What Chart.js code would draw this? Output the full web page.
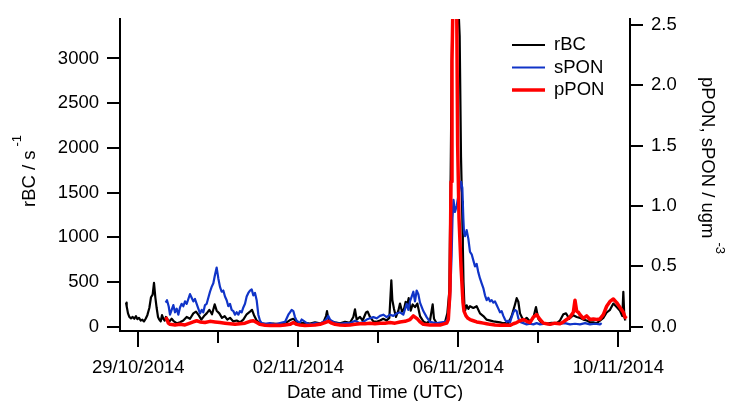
<!DOCTYPE html>
<html>
<head>
<meta charset="utf-8">
<title>rBC, sPON and pPON</title>
<script src="https://cdn.jsdelivr.net/npm/chart.js@4.4.1/dist/chart.umd.min.js"></script>
<style>
  body { margin: 0; background: #fff; }
  #wrap { width: 729px; height: 401px; position: relative; }
</style>
</head>
<body>
<div id="wrap"><canvas id="myChart"></canvas></div>
<script>
// time is kept in hours since 28/10/2014 13:00 UTC
const T0 = Date.UTC(2014, 9, 28, 13);
const timeTicks = [11, 59, 107, 155, 203, 251, 299];   // every 2 days, label every 4
const leftTicks = [0, 500, 1000, 1500, 2000, 2500, 3000];
const rightTicks = [0, 0.5, 1, 1.5, 2, 2.5];

// rBC (s-1), left axis
const rbcHours = [
  3.6, 4.0, 4.8, 5.6, 6.6, 7.6, 8.6, 9.6, 10.4, 11.4,
  12.4, 13.4, 14.4, 15.4, 16.4, 17.6, 18.6, 19.6, 20.4, 21.2,
  22.0, 22.8, 23.6, 24.4, 25.2, 26.0, 26.8, 27.6, 28.6, 29.6,
  31.0, 32.4, 34.0, 36.0, 38.0, 40.0, 42.0, 44.0, 45.6, 47.2,
  48.8, 50.4, 52.0, 53.6, 55.2, 56.8, 58.0, 59.6, 61.2, 62.8,
  64.4, 66.0, 68.0, 70.0, 72.0, 74.0, 76.0, 78.0, 79.2, 80.4,
  82.0, 84.0, 88.0, 92.0, 96.0, 100.0, 102.0, 104.0, 106.0, 108.0,
  111.0, 114.0, 117.0, 120.0, 122.0, 123.6, 124.2, 125.0, 126.4, 129.0,
  132.0, 135.0, 138.0, 140.0, 141.0, 142.0, 144.0, 145.6, 147.6, 148.6,
  150.0, 152.0, 154.0, 156.0, 158.0, 160.0, 161.6, 162.8, 163.4, 164.4,
  165.6, 167.0, 168.0, 169.2, 170.4, 171.4, 172.4, 173.2, 174.4, 175.6,
  177.0, 178.4, 180.0, 182.0, 184.0, 186.0, 187.6, 188.4, 190.0, 193.0,
  195.0, 196.4, 197.6, 198.4, 199.0, 199.6, 201.0, 203.0, 203.8, 204.6,
  205.2, 205.7, 206.1, 206.6, 207.0, 208.0, 209.0, 210.0, 212.0, 214.0,
  216.0, 218.0, 220.0, 224.0, 228.0, 230.0, 233.0, 235.0, 237.0, 238.0,
  239.0, 240.0, 242.0, 244.0, 246.0, 248.0, 249.6, 251.0, 253.0, 256.0,
  259.0, 262.0, 264.0, 266.0, 267.6, 269.6, 272.0, 274.0, 276.0, 278.0,
  280.0, 282.0, 284.0, 286.0, 288.0, 290.0, 292.0, 294.0, 296.0, 298.0,
  300.0, 301.4, 302.0, 302.6, 303.2
];
const rbcValues = [
  270, 230, 150, 110, 95, 110, 90, 120, 85, 100,
  70, 80, 60, 90, 130, 210, 330, 360, 490, 330,
  210, 110, 80, 60, 130, 90, 70, 110, 80, 60,
  90, 60, 40, 50, 70, 110, 90, 150, 170, 130,
  80, 120, 150, 190, 140, 250, 180, 150, 100, 120,
  80, 100, 60, 70, 50, 80, 140, 170, 190, 130,
  70, 40, 30, 35, 30, 50, 75, 90, 55, 40,
  45, 35, 50, 40, 50, 120, 175, 90, 60, 50,
  40, 55, 45, 110, 195, 80, 110, 70, 160, 170,
  110, 60, 55, 70, 90, 70, 100, 520, 300, 200,
  110, 180, 260, 170, 200, 280, 250, 320, 180, 250,
  220, 260, 120, 60, 40, 70, 250, 90, 40, 35,
  50, 150, 400, 1700, 2900, 3600, 3600, 3600, 3250, 1900,
  1400, 900, 500, 260, 180, 240, 200, 230, 210, 230,
  150, 120, 80, 60, 50, 40, 40, 120, 250, 320,
  280, 150, 70, 100, 60, 100, 220, 90, 40, 35,
  45, 40, 70, 140, 150, 90, 130, 110, 100, 80,
  70, 50, 50, 40, 70, 100, 160, 190, 260, 220,
  180, 120, 390, 110, 70
];

// sPON (ugm-3), right axis
const sponHours = [
  27.4, 28.2, 29.2, 30, 31, 32, 33, 34, 35, 36,
  37, 38, 39, 40, 41, 42, 43, 44, 45, 46,
  47, 48, 49, 50, 51, 52, 53, 54, 55, 56,
  57, 58, 59, 60, 61, 62, 63, 64, 65, 66,
  67, 68, 69, 70, 71, 72, 73, 74, 75, 76,
  77, 78, 79, 80, 81, 82, 83, 84, 85, 87,
  90, 93, 96, 99, 101, 102, 103, 104, 105, 106,
  107, 108, 109, 110, 112, 114, 117, 120, 123, 124.2,
  125, 126, 128, 130, 132, 135, 138, 141, 144, 146,
  148, 150, 152, 154, 156, 158, 160, 162, 164, 166,
  168, 170, 172, 173, 174, 175, 176, 177, 178, 179,
  180, 182, 184, 186, 188, 190, 192, 195, 196.5, 197,
  198, 199, 199.5, 200.1, 201, 202, 203.2, 204.6, 205.4, 206.0,
  206.4, 207, 208, 209, 210, 211, 212, 213, 214, 215,
  216, 217, 218, 219, 220, 221, 222, 223, 224, 225,
  226, 227, 228, 229, 230, 231, 232, 233, 234, 235,
  236, 237, 238, 239, 240, 242, 244, 246, 248, 250,
  252, 255, 258, 261, 264, 267, 270, 273, 276, 279,
  282, 285, 288, 289
];
const sponValues = [
  0.20, 0.22, 0.17, 0.10, 0.14, 0.18, 0.12, 0.15, 0.10, 0.16,
  0.19, 0.17, 0.21, 0.19, 0.23, 0.27, 0.24, 0.21, 0.23, 0.19,
  0.15, 0.11, 0.14, 0.12, 0.18, 0.19, 0.24, 0.29, 0.33, 0.36,
  0.43, 0.49, 0.40, 0.33, 0.29, 0.30, 0.25, 0.22, 0.17, 0.19,
  0.14, 0.13, 0.10, 0.12, 0.10, 0.13, 0.12, 0.16, 0.19, 0.25,
  0.28, 0.30, 0.31, 0.26, 0.28, 0.22, 0.10, 0.05, 0.03, 0.025,
  0.03, 0.02, 0.03, 0.04, 0.10, 0.12, 0.14, 0.13, 0.08, 0.05,
  0.04, 0.035, 0.06, 0.05, 0.03, 0.02, 0.03, 0.025, 0.05, 0.07,
  0.09, 0.06, 0.04, 0.03, 0.025, 0.03, 0.03, 0.05, 0.03, 0.04,
  0.06, 0.07, 0.08, 0.07, 0.09, 0.10, 0.08, 0.10, 0.09, 0.11,
  0.12, 0.10, 0.19, 0.14, 0.21, 0.25, 0.29, 0.21, 0.30, 0.27,
  0.20, 0.13, 0.08, 0.04, 0.035, 0.03, 0.035, 0.04, 0.06, 0.10,
  0.22, 0.60, 0.90, 1.05, 0.95, 1.0, 1.1, 1.2, 1.15, 0.90,
  0.78, 0.75, 0.80, 0.73, 0.62, 0.60, 0.55, 0.50, 0.52, 0.45,
  0.40, 0.36, 0.32, 0.26, 0.22, 0.24, 0.21, 0.22, 0.20, 0.21,
  0.18, 0.15, 0.12, 0.13, 0.09, 0.06, 0.04, 0.05, 0.035, 0.08,
  0.12, 0.14, 0.13, 0.07, 0.04, 0.03, 0.02, 0.025, 0.02, 0.03,
  0.02, 0.025, 0.02, 0.03, 0.025, 0.03, 0.02, 0.025, 0.02, 0.03,
  0.02, 0.025, 0.02, 0.03
];

// pPON (ugm-3), right axis
const pponHours = [
  27.4, 28.2, 29, 30, 33, 36, 39, 42, 44, 46,
  48, 51, 54, 57, 60, 63, 66, 69, 72, 75,
  78, 80, 82, 84, 87, 90, 93, 96, 99, 102,
  104, 106, 108, 111, 114, 117, 120, 123, 125, 127,
  129, 132, 135, 138, 141, 144, 147, 150, 153, 156,
  159, 162, 165, 168, 171, 174, 176, 177, 178.4, 180,
  182, 186, 192, 196, 197, 198, 198.6, 199.2, 199.8, 201,
  202.0, 202.6, 203.4, 204, 204.6, 205.2, 205.8, 206.4, 207.6, 208.8,
  210, 212, 214, 216, 218, 220, 222, 225, 228, 231,
  234, 236, 238, 240, 242, 244, 246, 248, 250, 252,
  254, 256, 258, 261, 264, 266, 268, 270, 272, 272.6,
  273, 274, 275, 276, 278, 280, 282, 284, 286, 288,
  290, 292, 294, 296, 298, 300, 302, 303, 304
];
const pponValues = [
  0.08, 0.06, 0.03, 0.02, 0.015, 0.02, 0.015, 0.03, 0.04, 0.05,
  0.04, 0.035, 0.045, 0.04, 0.035, 0.03, 0.025, 0.02, 0.025, 0.03,
  0.045, 0.05, 0.035, 0.02, 0.012, 0.01, 0.012, 0.01, 0.015, 0.02,
  0.035, 0.02, 0.015, 0.01, 0.012, 0.015, 0.02, 0.035, 0.045, 0.03,
  0.02, 0.015, 0.012, 0.015, 0.02, 0.025, 0.025, 0.03, 0.025, 0.03,
  0.03, 0.035, 0.03, 0.04, 0.045, 0.06, 0.09, 0.08, 0.065, 0.04,
  0.02, 0.015, 0.015, 0.03, 0.06, 0.30, 1.2, 2.2, 2.7, 2.7,
  2.7, 1.5, 0.9, 0.7, 0.5, 0.35, 0.2, 0.13, 0.09, 0.07,
  0.06, 0.05, 0.04, 0.035, 0.03, 0.025, 0.02, 0.015, 0.012, 0.015,
  0.012, 0.025, 0.035, 0.05, 0.06, 0.045, 0.035, 0.08, 0.10, 0.06,
  0.03, 0.025, 0.02, 0.03, 0.025, 0.04, 0.06, 0.08, 0.12, 0.18,
  0.22, 0.13, 0.12, 0.10, 0.07, 0.09, 0.06, 0.065, 0.06, 0.065,
  0.10, 0.17, 0.21, 0.23, 0.20, 0.16, 0.12, 0.08, 0.07
];

const FONT_FAMILY = "'Liberation Sans', Arial, Helvetica, sans-serif";
const FONT_SIZE = 18.5;
const BLUE = '#1034c8';
const RED = '#ff0000';

Chart.defaults.font.family = FONT_FAMILY;
Chart.defaults.font.size = FONT_SIZE;
Chart.defaults.color = '#000';

function toPoints(hours, values) {
  return hours.map((h, i) => ({ x: h, y: values[i] }));
}

function dateLabel(h) {
  const d = new Date(T0 + h * 3600 * 1000);
  const dd = String(d.getUTCDate()).padStart(2, '0');
  const mm = String(d.getUTCMonth() + 1).padStart(2, '0');
  return dd + '/' + mm + '/' + d.getUTCFullYear();
}

// rotated axis title with a superscript
function drawTitle(ctx, text, sup, x, y, angle) {
  ctx.save();
  ctx.translate(x, y);
  ctx.rotate(angle);
  ctx.textAlign = 'left';
  ctx.textBaseline = 'alphabetic';
  ctx.font = FONT_SIZE + 'px ' + FONT_FAMILY;
  ctx.fillText(text, 0, 0);
  const w = ctx.measureText(text).width;
  ctx.font = '13px ' + FONT_FAMILY;
  ctx.fillText(sup, w + 4, -14);
  ctx.restore();
}

const legendItems = [
  { label: 'rBC', color: '#000', width: 2 },
  { label: 'sPON', color: BLUE, width: 2 },
  { label: 'pPON', color: RED, width: 3.5 }
];

const axisDecor = {
  id: 'axisDecor',
  afterDraw(chart) {
    const { ctx, chartArea: area, scales } = chart;
    ctx.save();

    // x ticks, the labelled ones are longer
    ctx.strokeStyle = '#000';
    ctx.lineWidth = 2;
    timeTicks.forEach((h, i) => {
      const px = Math.round(scales.x.getPixelForValue(h));
      const len = i % 2 === 0 ? 16 : 12;
      ctx.beginPath();
      ctx.moveTo(px, area.bottom);
      ctx.lineTo(px, area.bottom + len);
      ctx.stroke();
    });

    ctx.fillStyle = '#000';
    ctx.font = FONT_SIZE + 'px ' + FONT_FAMILY;
    ctx.textAlign = 'center';
    ctx.textBaseline = 'alphabetic';
    ctx.fillText('Date and Time (UTC)', (area.left + area.right) / 2, 398);

    drawTitle(ctx, 'rBC / s', '-1', 35, 207, -Math.PI / 2);
    drawTitle(ctx, 'pPON, sPON / ugm', '-3', 702, 77, Math.PI / 2);

    // legend inside the plot
    legendItems.forEach((item, i) => {
      const y = 45 + i * 22.5;
      ctx.strokeStyle = item.color;
      ctx.lineWidth = item.width;
      ctx.beginPath();
      ctx.moveTo(512, y);
      ctx.lineTo(545, y);
      ctx.stroke();
      ctx.fillStyle = '#000';
      ctx.textAlign = 'left';
      ctx.textBaseline = 'middle';
      ctx.fillText(item.label, 554, y);
    });

    ctx.restore();
  }
};

const config = {
  type: 'line',
  data: {
    datasets: [
      {
        label: 'rBC',
        data: toPoints(rbcHours, rbcValues),
        yAxisID: 'y',
        borderColor: '#000',
        borderWidth: 2.2,
        order: 3
      },
      {
        label: 'sPON',
        data: toPoints(sponHours, sponValues),
        yAxisID: 'y1',
        borderColor: BLUE,
        borderWidth: 2.2,
        order: 2
      },
      {
        label: 'pPON',
        data: toPoints(pponHours, pponValues),
        yAxisID: 'y1',
        borderColor: RED,
        borderWidth: 3.5,
        order: 1
      }
    ]
  },
  options: {
    responsive: true,
    maintainAspectRatio: false,
    animation: false,
    events: [],
    layout: { padding: { top: 15, left: 0, right: 0, bottom: 0 } },
    elements: {
      point: { radius: 0 },
      line: { tension: 0, borderJoinStyle: 'round', fill: false }
    },
    plugins: {
      legend: { display: false },
      tooltip: { enabled: false }
    },
    scales: {
      x: {
        type: 'linear',
        min: 0,
        max: 306,
        grid: { display: false, drawTicks: false },
        border: { display: true, color: '#000', width: 2 },
        afterBuildTicks: (scale) => {
          scale.ticks = timeTicks.map(v => ({ value: v }));
        },
        afterFit: (scale) => { scale.height = 70; },
        ticks: {
          autoSkip: false,
          maxRotation: 0,
          padding: 26,
          callback: (value, index) => (index % 2 === 0 ? dateLabel(value) : '')
        }
      },
      y: {
        position: 'left',
        min: -47,
        max: 3440,
        grid: { drawOnChartArea: false, tickLength: 13, lineWidth: 2, color: '#000' },
        border: { display: true, color: '#000', width: 2 },
        afterBuildTicks: (scale) => {
          scale.ticks = leftTicks.map(v => ({ value: v }));
        },
        afterFit: (scale) => { scale.width = 120; },
        ticks: { padding: 8, callback: v => String(v) }
      },
      y1: {
        position: 'right',
        min: -0.035,
        max: 2.547,
        grid: { drawOnChartArea: false, tickLength: 13, lineWidth: 2, color: '#000' },
        border: { display: true, color: '#000', width: 2 },
        afterBuildTicks: (scale) => {
          scale.ticks = rightTicks.map(v => ({ value: v }));
        },
        afterFit: (scale) => { scale.width = 99; },
        ticks: { padding: 8, callback: v => v.toFixed(1) }
      }
    }
  },
  plugins: [axisDecor]
};

const myChart = new Chart(document.getElementById('myChart'), config);
</script>
</body>
</html>
